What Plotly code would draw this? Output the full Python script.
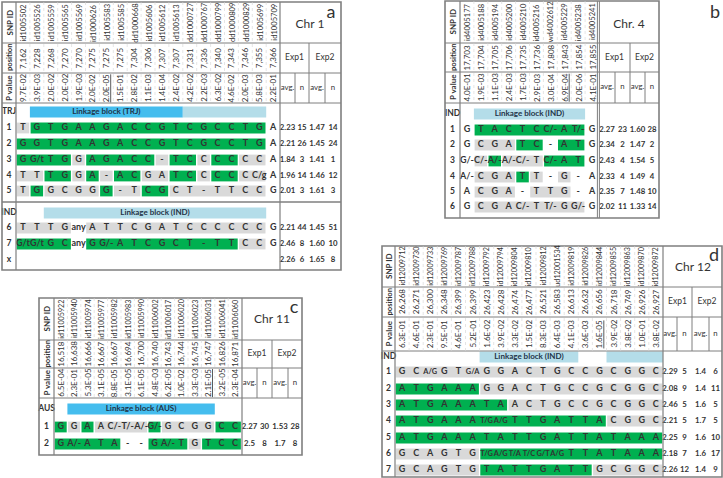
import plotly.graph_objects as go

# ======================= DATA =======================
# ---- panel a : Chr 1 ----
A_SNP = ["id1005502", "id1005526", "id1005559", "id1005565", "id1005569", "id1000626", "id1005583",
         "id1005585", "dd1000668", "id1005606", "id1005612", "id1005613", "dd1000727", "dd1000767",
         "dd1000799", "dd1000809", "dd1000829", "id1005699", "id1005709"]
A_POS = ["7,162", "7,228", "7,268", "7,270", "7,270", "7,275", "7,275", "7,275", "7,304", "7,306",
         "7,307", "7,307", "7,331", "7,336", "7,340", "7,343", "7,346", "7,355", "7,366"]
A_PVAL = ["9.7E-02", "3.9E-03", "2.0E-02", "2.0E-02", "1.9E-03", "2.0E-02", "2.0E-05", "1.5E-01",
          "2.8E-02", "1.1E-03", "1.4E-04", "2.4E-02", "4.2E-02", "2.2E-03", "6.3E-02", "4.6E-02",
          "2.0E-03", "5.8E-03", "2.2E-01"]
A_TOP_P = 6
A_LABELS = ["1", "2", "3", "4", "5", "6", "7", "x"]
A_GENO = ["T G T G A A G A C C G T C G C C T G A",
          "G G T G A A G A C C G T C G C C T G A",
          "G G/t T G G A G A C C - T C C C C C C A",
          "T T T G G A - A C G A T C C C C C C/g A",
          "T G G C G G G - T C G C T - T T C C G",
          "T T T G any A T T C G A T C C C C C C G",
          "G/t G/t G C any G G/- A T C G C T - T T C C G",
          ""]
A_FILL = ["sggggggggggggggggg.",
          "gggggggggggggggggg.",
          "ggggsgggggsggsggss.",
          "ssggsgsggssggsggss.",
          "sgssssgssggsssssss.",
          "ssss.sssssssssssss.",
          "gggg.gggggggggggss.",
          "..................."]
A_GROUPS = [("TRJ", [(2, 12, "Linkage block (TRJ)", "bright"), (13, 18, "", "light")]),
            ("IND", [(3, 18, "Linkage block (IND)", "light")])]
A_E1_AVG = ["2.23", "2.21", "1.84", "1.96", "2.01", "2.21", "2.46", "2.26"]
A_E1_N = ["15", "26", "3", "14", "3", "44", "8", "6"]
A_E2_AVG = ["1.47", "1.45", "1.41", "1.46", "1.61", "1.45", "1.60", "1.65"]
A_E2_N = ["14", "24", "1", "12", "3", "51", "10", "8"]

# ---- panel b : Chr. 4 ----
B_SNP = ["id4005177", "id4005188", "id4005194", "id4005200", "id4005210", "id4005216",
         "wd4002612", "id4005229", "id4005238", "id4005241"]
B_POS = ["17,703", "17,704", "17,705", "17,706", "17,735", "17,736", "17,808", "17,843",
         "17,854", "17,855"]
B_PVAL = ["4.0E-01", "1.9E-03", "1.1E-03", "2.4E-03", "1.7E-03", "2.9E-03", "3.0E-04",
          "6.9E-04", "2.0E-06", "4.1E-01"]
B_TOP_P = 7
B_LABELS = ["1", "2", "3", "4", "5", "6"]
B_GENO = ["G T A C T C C/- A T/- G",
          "G C G A T C - A T G",
          "G/- C/- A/- A/- C/- T C/- A T G",
          "A/- C G A T T - G - A",
          "A C G A - T T G - A",
          "G C G A C/- T T/- G G/- G"]
B_FILL = [".gggggggg.",
          ".sssgg.gg.",
          ".sgsssggg.",
          ".sssgs.s..",
          ".sss.sss..",
          ".ssssssss."]
B_GROUPS = [("IND", [(2, 9, "Linkage block (IND)", "light")])]
B_E1_AVG = ["2.27", "2.34", "2.43", "2.33", "2.35", "2.02"]
B_E1_N = ["23", "2", "4", "4", "7", "11"]
B_E2_AVG = ["1.60", "1.47", "1.54", "1.49", "1.48", "1.33"]
B_E2_N = ["28", "2", "5", "4", "10", "14"]

# ---- panel c : Chr 11 ----
C_SNP = ["id11005922", "id11005940", "id11005974", "id11005977", "id11005982", "id11005983",
         "id11005990", "id11006002", "id11006017", "id11006020", "id11006023", "id11006031",
         "id11006041", "id11006060"]
C_POS = ["16,518", "16,638", "16,666", "16,667", "16,667", "16,694", "16,700", "16,740",
         "16,743", "16,744", "16,745", "16,747", "16,826", "16,871"]
C_PVAL = ["6.5E-04", "2.3E-01", "5.3E-05", "3.1E-05", "8.8E-05", "3.1E-05", "6.1E-05",
          "4.8E-03", "6.2E-05", "1.0E-02", "3.3E-03", "2.1E-05", "3.2E-05", "2.3E-04"]
C_TOP_P = 11
C_LABELS = ["1", "2"]
C_GENO = ["G G A A C/- T/- A/- G/- G C G G C C",
          "G A/- A T A - - G A/- T G T C C"]
C_FILL = ["gsgssssgssssgg",
          "ggggg..gggsggg"]
C_GROUPS = [("AUS", [(2, 12, "Linkage block (AUS)", "bright")])]
C_E1_AVG = ["2.27", "2.5"]
C_E1_N = ["30", "8"]
C_E2_AVG = ["1.53", "1.7"]
C_E2_N = ["28", "8"]

# ---- panel d : Chr 12 ----
D_SNP = ["id12009712", "id12009730", "id12009733", "id12009769", "id12009787", "id12009788",
         "id12009792", "id12009794", "id12009804", "id12009810", "id12009812", "ud12001534",
         "id12009819", "id12009826", "id12009844", "id12009855", "id12009863", "id12009870",
         "id12009872"]
D_POS = ["26,268", "26,271", "26,300", "26,348", "26,399", "26,399", "26,423", "26,428",
         "26,474", "26,477", "26,521", "26,583", "26,613", "26,632", "26,656", "26,718",
         "26,749", "26,926", "26,927"]
D_PVAL = ["6.3E-01", "4.6E-01", "2.3E-01", "9.5E-01", "4.6E-01", "5.2E-01", "1.6E-02",
          "3.9E-02", "3.3E-02", "1.5E-02", "8.3E-03", "6.4E-03", "4.1E-03", "3.6E-03",
          "1.6E-05", "3.9E-02", "3.8E-02", "1.0E-01", "3.8E-02"]
D_TOP_P = 14
D_LABELS = ["1", "2", "3", "4", "5", "6", "7"]
D_GENO = ["G C A/G G T G/A G G A C T G C C G C G G C",
          "A T G A A A G G A C T G C C G C G G C",
          "A T G A A A T A A C T G C C G C G G C",
          "A T G A A A T/G A/G T T G A T T A C G G C",
          "A T G A A A T A T T G A T T A T A A A",
          "G C A G T G T/G A/G T/A T/C G/T A/G T T A T A A A",
          "G C A G T G T A T T G A T T G C G G C"]
D_FILL = ["sssssssssssssssssss",
          "ggggggsssssssssssss",
          "ggggggggsssssssssss",
          "gggggggggggggggssss",
          "ggggggggggggggggggg",
          "ssssssggggggggggggg",
          "ssssssggggggggsssss"]
D_GROUPS = [("IND", [(7, 13, "Linkage block (IND)", "light"), (16, 19, "", "light")])]
D_E1_AVG = ["2.29", "2.08", "2.46", "2.21", "2.25", "2.18", "2.26"]
D_E1_N = ["5", "9", "5", "5", "9", "7", "12"]
D_E2_AVG = ["1.4", "1.4", "1.6", "1.7", "1.6", "1.6", "1.4"]
D_E2_N = ["6", "11", "5", "5", "10", "17", "9"]

# ======================= STYLE / GEOMETRY =======================
W, H = 723, 478
FONT = "Lato"
TXT = "#333333"
LINE = "#7f7f7f"
FILLS = {"g": "#00B050", "s": "#D9D9D9"}
BARS = {"bright": "#45BDEE", "light": "#B4DDE9"}
BAR_TXT = "#1F3347"

GEOM = {
    "a": dict(box=(2, 2, 341, 270), lab=16, cw=13.9, exp=(280, 295, 309, 325, 341),
              bands=(2, 43, 73, 103), group_y=(112, 213), rows=(128, 144, 160, 176, 191, 228, 244, 260),
              seps=(202,), chr_xy=(310, 25), let_xy=(331, 13), double=False),
    "b": dict(box=(445, 1, 659, 218), lab=460, cw=13.9, exp=(599, 615, 630, 645, 659),
              bands=(1, 43, 72, 103), group_y=(114,), rows=(130, 145, 161, 177, 192, 207),
              seps=(), chr_xy=(629, 25), let_xy=(715, 13), double=True),
    "c": dict(box=(39, 298, 302, 455), lab=54, cw=13.4, exp=(242, 257, 272, 288, 302),
              bands=(298, 340, 368, 398), group_y=(409,), rows=(427, 444),
              seps=(), chr_xy=(272, 320), let_xy=(294, 308), double=False),
    "d": dict(box=(382, 246, 722, 477), lab=395, cw=14.1, exp=(663, 677, 692, 709, 722),
              bands=(246, 287, 317, 351), group_y=(357,), rows=(372, 389, 405, 421, 438, 454, 470),
              seps=(), chr_xy=(693, 268), let_xy=(714, 256), double=False),
}

shapes, annos = [], []
texts = {}


def add_text(style, x, y, t):
    d = texts.setdefault(style, ([], [], []))
    d[0].append(x)
    d[1].append(y)
    d[2].append(t)


def rot(x, y, t, size=8, bold=False):
    annos.append(dict(x=x, y=y, xref="x", yref="y", text=f"<b>{t}</b>" if bold else t,
                      textangle=-90, showarrow=False, xanchor="center", yanchor="middle",
                      font=dict(family=FONT, size=size, color=TXT)))


def line(x0, y0, x1, y1, w=1.0, c=LINE, dash=None):
    ln = dict(color=c, width=w)
    if dash:
        ln["dash"] = dash
    shapes.append(dict(type="line", xref="x", yref="y", x0=x0, y0=y0, x1=x1, y1=y1,
                       line=ln, layer="above"))


def rect(x0, y0, x1, y1, fill):
    shapes.append(dict(type="rect", xref="x", yref="y", x0=x0, y0=y0, x1=x1, y1=y1,
                       fillcolor=fill, line=dict(width=0), layer="below"))


def draw(key, snp, pos, pval, top_p, labels, geno, fill, groups, e1a, e1n, e2a, e2n,
         chr_name, letter, id_size=7.6, narrow_multi=False):
    g = GEOM[key]
    L, T, R, B = g["box"]
    lab, cw = g["lab"], g["cw"]
    b0, b1, b2, b3 = g["bands"]
    ex = g["exp"]
    n = len(snp)
    cx = [lab + cw * (i + 0.5) for i in range(n)]
    lx = (L + lab) / 2

    # header rows
    for i in range(n):
        rot(cx[i], (b0 + b1) / 2, snp[i], id_size)
        rot(cx[i], (b1 + b2) / 2, pos[i], 8)
        p = f"<u>{pval[i]}</u>" if i == top_p else pval[i]
        rot(cx[i], (b2 + b3) / 2, p, 8)
    rot(lx, (b0 + b1) / 2, "SNP ID", 8, True)
    rot(lx, (b1 + b2) / 2, "position", 7.6, True)
    rot(lx, (b2 + b3) / 2, "P value", 8, True)

    add_text("chr", g["chr_xy"][0], g["chr_xy"][1], chr_name)
    add_text("letter", g["let_xy"][0], g["let_xy"][1], letter)
    add_text("exp", (ex[0] + ex[2]) / 2, (b1 + b2) / 2, "Exp1")
    add_text("exp", (ex[2] + ex[4]) / 2, (b1 + b2) / 2, "Exp2")
    for j, t in enumerate(["avg.", "n", "avg.", "n"]):
        add_text("sub", (ex[j] + ex[j + 1]) / 2, (b2 + b3) / 2, t)

    # group rows with linkage blocks
    for (name, bars), gy in zip(groups, g["group_y"]):
        add_text("lab", lx, gy, name)
        for c0, c1, t, kind in bars:
            x0 = lab + (c0 - 1) * cw
            x1 = lab + c1 * cw
            rect(x0, gy - 5.5, x1, gy + 5.5, BARS[kind])
            if t:
                add_text("bar", (x0 + x1) / 2, gy, t)

    # genotype rows
    for r, lbl in enumerate(labels):
        y = g["rows"][r]
        add_text("lab", lx, y, lbl)
        cells = geno[r].split()
        f = fill[r]
        i = 0
        while i < len(f):
            if f[i] in FILLS:
                j = i
                while j + 1 < len(f) and f[j + 1] == f[i]:
                    j += 1
                rect(lab + i * cw + 0.7, y - 5.4, lab + (j + 1) * cw - 0.7, y + 5.4, FILLS[f[i]])
                i = j + 1
            else:
                i += 1
        for i, t in enumerate(cells):
            style = "geno2" if (narrow_multi and "/" in t) else "geno"
            add_text(style, cx[i], y, t)
        for j, vals in enumerate([e1a, e1n, e2a, e2n]):
            add_text("val", (ex[j] + ex[j + 1]) / 2, y, vals[r])

    # grid lines
    shapes.append(dict(type="rect", xref="x", yref="y", x0=L, y0=T, x1=R, y1=B,
                       line=dict(color=LINE, width=1.6), fillcolor="rgba(0,0,0,0)", layer="above"))
    line(lab, T, lab, B, 1.2)
    if g["double"]:
        line(ex[0] - 1.6, T, ex[0] - 1.6, B, 1.0)
        line(ex[0] + 0.4, T, ex[0] + 0.4, B, 1.0)
    else:
        line(ex[0], T, ex[0], B, 1.2)
    for yb in (b1, b2, b3):
        line(L, yb, R, yb, 1.0)
    for ys in g["seps"]:
        line(L, ys, R, ys, 1.4)
    line(ex[2], b1, ex[2], b3, 1.0)
    line(ex[1], b2, ex[1], b3, 1.0)
    line(ex[3], b2, ex[3], b3, 1.0)
    for i in range(1, n):
        xv = lab + cw * i
        line(xv, b0, xv, b3, 0.6, "#d4d4d4", "dot")


draw("a", A_SNP, A_POS, A_PVAL, A_TOP_P, A_LABELS, A_GENO, A_FILL, A_GROUPS,
     A_E1_AVG, A_E1_N, A_E2_AVG, A_E2_N, "Chr 1", "a")
draw("b", B_SNP, B_POS, B_PVAL, B_TOP_P, B_LABELS, B_GENO, B_FILL, B_GROUPS,
     B_E1_AVG, B_E1_N, B_E2_AVG, B_E2_N, "Chr. 4", "b")
draw("c", C_SNP, C_POS, C_PVAL, C_TOP_P, C_LABELS, C_GENO, C_FILL, C_GROUPS,
     C_E1_AVG, C_E1_N, C_E2_AVG, C_E2_N, "Chr 11", "c", 7.2)
draw("d", D_SNP, D_POS, D_PVAL, D_TOP_P, D_LABELS, D_GENO, D_FILL, D_GROUPS,
     D_E1_AVG, D_E1_N, D_E2_AVG, D_E2_N, "Chr 12", "d", 7.2, narrow_multi=True)

STYLES = {
    "geno": dict(size=9, color=TXT, bold=True),
    "geno2": dict(size=7.4, color=TXT, bold=True),
    "val": dict(size=7.8, color=TXT, bold=True),
    "lab": dict(size=8.5, color=TXT, bold=True),
    "bar": dict(size=8, color=BAR_TXT, bold=True),
    "exp": dict(size=8.5, color=TXT, bold=False),
    "sub": dict(size=7.8, color=TXT, bold=False),
    "chr": dict(size=12, color=TXT, bold=False),
    "letter": dict(size=18, color=TXT, bold=False),
}

fig = go.Figure()
for style, (xs, ys, ts) in texts.items():
    st = STYLES[style]
    tt = [f"<b>{t}</b>" if st["bold"] else t for t in ts]
    fig.add_trace(go.Scatter(x=xs, y=ys, text=tt, mode="text", textposition="middle center",
                             textfont=dict(family=FONT, size=st["size"], color=st["color"]),
                             hoverinfo="skip", showlegend=False, cliponaxis=False))

fig.update_layout(
    width=W, height=H, margin=dict(l=0, r=0, t=0, b=0),
    paper_bgcolor="white", plot_bgcolor="white",
    xaxis=dict(range=[0, W], visible=False, fixedrange=True),
    yaxis=dict(range=[H, 0], visible=False, fixedrange=True),
    shapes=shapes, annotations=annos, showlegend=False,
)

fig.write_html("out.html", config={"displayModeBar": False},
               post_script="document.body.style.margin='0px';")
